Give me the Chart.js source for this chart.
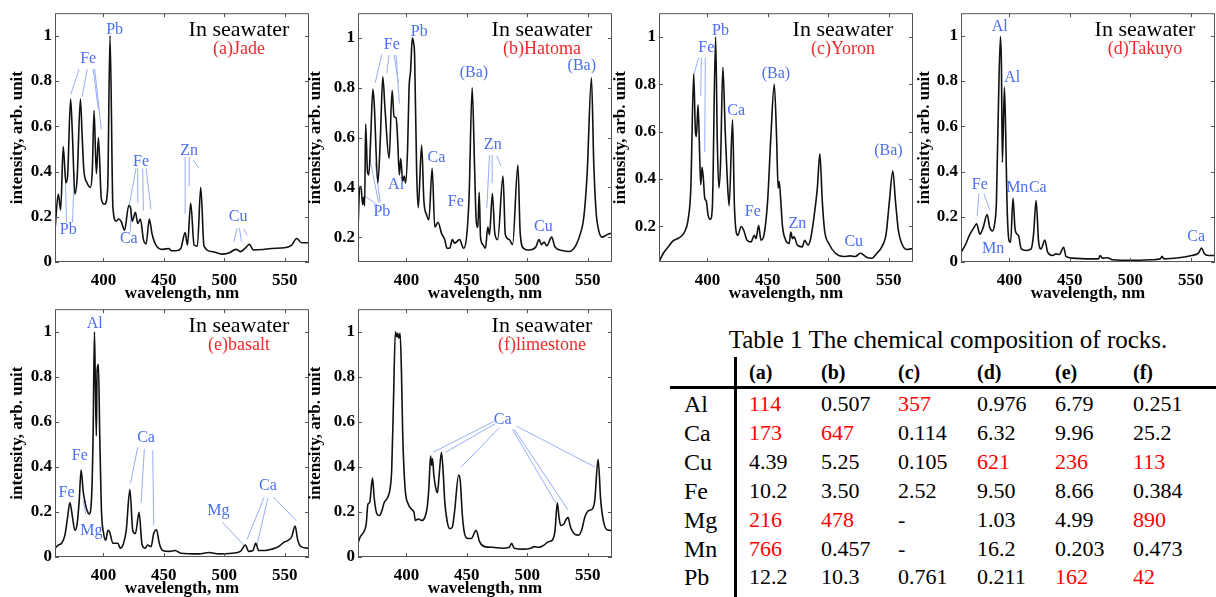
<!DOCTYPE html>
<html>
<head>
<meta charset="utf-8">
<script src="https://cdn.jsdelivr.net/npm/chart.js@4.4.1/dist/chart.umd.min.js"></script>
<style>
  html, body { margin: 0; padding: 0; background: #fff; }
  body { width: 1216px; height: 597px; position: relative; overflow: hidden; font-family: "Liberation Serif", serif; }
  canvas.panel { position: absolute; }
  .t { position: absolute; white-space: nowrap; line-height: 1; }
  .rule { position: absolute; background: #000; }
</style>
</head>
<body>
<script>
// axis ticks
const xTicks = [400, 450, 500, 550];
const yTicksFrom0 = [0, 0.2, 0.4, 0.6, 0.8, 1];
const yTicksFrom02 = [0.2, 0.4, 0.6, 0.8, 1];

// (a) Jade spectrum
const jadeWl = [360, 362.7, 364.7, 366.8, 369, 370.4, 372.9, 374.5, 376.4, 378.3,
  381, 382.5, 383.8, 386.5, 389.3, 390.8, 392.3, 394.2, 395.9, 398.3,
  401, 403.5, 405.5, 407.9, 410.6, 412.5, 414.7, 417.5, 421, 422.5,
  423.8, 426.5, 428.4, 430.6, 433.1, 435.3, 438, 440.2, 443.5, 449,
  454.4, 456, 460, 464, 467.6, 469.5, 472.2, 475, 477.7, 480.5,
  483.2, 490, 498, 503.7, 509.7, 513.3, 517, 520.7, 524, 532,
  539, 550, 555.7, 559.8, 564, 570];
const jadeI = [0.14, 0.30, 0.23, 0.51, 0.35, 0.38, 0.72, 0.55, 0.30, 0.37,
  0.72, 0.55, 0.41, 0.35, 0.33, 0.40, 0.67, 0.39, 0.55, 0.28,
  0.255, 0.32, 1.0, 0.24, 0.18, 0.19, 0.18, 0.14, 0.25, 0.24,
  0.18, 0.22, 0.17, 0.19, 0.10, 0.08, 0.19, 0.125, 0.075, 0.056,
  0.06, 0.05, 0.05, 0.06, 0.13, 0.075, 0.26, 0.075, 0.07, 0.33,
  0.07, 0.046, 0.035, 0.04, 0.056, 0.046, 0.06, 0.078, 0.053, 0.055,
  0.06, 0.063, 0.075, 0.104, 0.085, 0.085];

// (b) Hatoma
const hatomaWl = [360, 361.4, 362.5, 363.8, 364.7, 365.5, 366.3, 367.9, 369, 370.5,
  372.3, 373.4, 376.4, 378.5, 380.5, 382.4, 385.7, 388.2, 389.8, 391.5,
  392.6, 394.2, 395.3, 397, 398.3, 399.4, 401, 402.2, 403.5, 404.9,
  406, 406.8, 408.5, 409.8, 412.6, 414.5, 416.7, 418.6, 421.3, 423.5,
  426.2, 429, 431.7, 433.6, 435.8, 438, 439.9, 444, 447.3, 451.7,
  454.4, 456.4, 457.7, 459.1, 460.2, 461.3, 463.2, 465.4, 467.3, 468.7,
  471.1, 473.1, 475.5, 479.9, 481.8, 485.1, 487.8, 492.2, 494.1, 496.9,
  501.5, 507, 509.7, 511.7, 513.8, 516, 520.1, 522.9, 528.9, 534.4,
  539.9, 544, 546.7, 549.4, 553, 554.9, 556.8, 559, 561.8, 565.9, 570];
const hatomaI = [0.227, 0.40, 0.403, 0.33, 0.36, 0.326, 0.654, 0.46, 0.45, 0.6,
  0.795, 0.737, 0.418, 0.6, 0.844, 0.71, 0.516, 0.79, 0.684, 0.68,
  0.61, 0.45, 0.516, 0.425, 0.445, 0.418, 0.555, 0.797, 0.87, 1.0,
  0.98, 0.93, 0.46, 0.318, 0.57, 0.344, 0.29, 0.27, 0.477, 0.24,
  0.26, 0.216, 0.19, 0.155, 0.155, 0.19, 0.176, 0.19, 0.155, 0.344,
  0.8, 0.477, 0.27, 0.24, 0.38, 0.2, 0.17, 0.155, 0.24, 0.21,
  0.375, 0.216, 0.19, 0.445, 0.21, 0.19, 0.17, 0.49, 0.216, 0.155,
  0.148, 0.16, 0.19, 0.17, 0.18, 0.165, 0.2, 0.16, 0.146, 0.142,
  0.165, 0.216, 0.28, 0.45, 0.84, 0.5, 0.305, 0.227, 0.2, 0.21, 0.216];

// (c) Yoron
const yoronWl = [360, 363.6, 367.7, 371.8, 375.9, 378.6, 381.4, 384.1, 386.3, 388.7,
  390.1, 390.9, 392.3, 393.7, 394.5, 395.6, 396.7, 397.8, 399.1, 400.5,
  402.4, 404.1, 406.8, 408.2, 409.5, 410.9, 412.8, 414.7, 416.4, 418,
  420.8, 422.4, 425.2, 427.9, 430.1, 432.8, 436.1, 438.8, 440.2, 442.4,
  444.3, 447, 449.8, 452.5, 455.3, 457.2, 458.5, 459.4, 460.7, 462.1,
  464.8, 467.6, 469, 470.3, 471.7, 474.4, 478.5, 480.4, 483.2, 485.4,
  488.1, 490.9, 493, 495, 496.9, 500.4, 505.9, 512.8, 518.2, 522.3,
  526.4, 531.9, 536, 540.1, 544.2, 547.8, 550.5, 553.3, 555.5, 557.9,
  560.7, 564.8, 570];
const yoronI = [0.05, 0.087, 0.114, 0.14, 0.15, 0.16, 0.18, 0.23, 0.36, 0.844,
  0.6, 0.58, 0.713, 0.486, 0.376, 0.45, 0.4, 0.32, 0.307, 0.25,
  0.23, 0.28, 1.0, 0.555, 0.362, 0.47, 0.872, 0.61, 0.404, 0.287,
  0.65, 0.28, 0.163, 0.2, 0.183, 0.142, 0.135, 0.163, 0.149, 0.204,
  0.142, 0.17, 0.307, 0.58, 0.8, 0.58, 0.362, 0.39, 0.307, 0.2,
  0.142, 0.128, 0.176, 0.149, 0.156, 0.121, 0.114, 0.142, 0.121, 0.149,
  0.238, 0.362, 0.507, 0.307, 0.183, 0.128, 0.087, 0.073, 0.076, 0.073,
  0.087, 0.069, 0.066, 0.087, 0.114, 0.17, 0.307, 0.434, 0.307, 0.183,
  0.128, 0.103, 0.107];

// (d) Takuyo
const takuyoWl = [360, 363.3, 367.4, 370.7, 372.9, 375.6, 378.3, 381.6, 383.8, 386,
  387.9, 389.3, 390.7, 392.6, 393.4, 394.2, 395.9, 397, 398, 399.7,
  401, 403, 404.6, 406.3, 407.6, 409.8, 413.9, 418, 420, 422.1,
  424.1, 426.2, 429.3, 431.7, 435.8, 438.6, 441.3, 444.9, 446.8, 452.3,
  463.2, 473.6, 475.2, 476.9, 481, 485.1, 501.5, 517.9, 524.8, 526.2,
  527.8, 539.9, 550.8, 556.3, 559, 561.2, 564.5, 570];
const takuyoI = [0.043, 0.072, 0.123, 0.152, 0.169, 0.123, 0.152, 0.21, 0.152, 0.137,
  0.173, 0.267, 0.629, 0.997, 0.874, 0.44, 0.773, 0.556, 0.267, 0.094,
  0.087, 0.282, 0.152, 0.123, 0.116, 0.058, 0.051, 0.058, 0.123, 0.272,
  0.094, 0.058, 0.097, 0.043, 0.029, 0.036, 0.033, 0.065, 0.025, 0.017,
  0.014, 0.014, 0.029, 0.017, 0.019, 0.01, 0.007, 0.01, 0.014, 0.025,
  0.014, 0.019, 0.029, 0.039, 0.062, 0.036, 0.029, 0.029];

// (e) basalt
const basaltWl = [360, 362.7, 365.5, 368.2, 370.4, 372.3, 374.5, 376.4, 378.3, 380,
  381.6, 383.3, 384.6, 386.6, 388.2, 390.1, 391.5, 392.6, 393.4, 394.2,
  394.8, 395.9, 397, 398.3, 400.2, 401.9, 403.8, 405.2, 407.9, 412,
  413.9, 416.7, 418.9, 421.9, 424.3, 426.5, 429.5, 432, 434.5, 436.6,
  439.4, 441.6, 444, 446.2, 449, 454.4, 459.4, 464, 479.1, 487.3,
  495.5, 506.5, 513.3, 517.4, 520.1, 523.7, 525.9, 528.4, 533.8, 539.3,
  544.8, 548.9, 553, 555.7, 558.5, 560.7, 563.4, 570];
const basaltI = [0.039, 0.053, 0.061, 0.097, 0.176, 0.241, 0.176, 0.118, 0.147, 0.249,
  0.386, 0.292, 0.249, 0.205, 0.191, 0.249, 0.538, 1.0, 0.754, 0.538,
  0.827, 0.855, 0.538, 0.22, 0.104, 0.075, 0.118, 0.111, 0.061, 0.061,
  0.039, 0.061, 0.118, 0.299, 0.118, 0.104, 0.198, 0.053, 0.039, 0.053,
  0.046, 0.104, 0.121, 0.061, 0.029, 0.025, 0.029, 0.017, 0.014, 0.02,
  0.014, 0.017, 0.025, 0.053, 0.025, 0.029, 0.061, 0.029, 0.029, 0.035,
  0.046, 0.064, 0.075, 0.09, 0.137, 0.075, 0.046, 0.039];

// (f) limestone
const limeWl = [360, 361.9, 364.7, 366.8, 368.2, 369.6, 372, 373.4, 375.6, 377.8,
  379.7, 381.6, 384.4, 386.6, 387.9, 389.3, 390.9, 392, 392.8, 393.7,
  394.8, 395.9, 397, 398.9, 401.6, 404.3, 406.3, 407.4, 409.8, 412.6,
  415.3, 417.2, 418.6, 420, 420.8, 421.6, 422.7, 424.3, 425.7, 427.1,
  429, 430.4, 431.7, 433.6, 435.8, 438, 439.9, 443.2, 444.6, 446.2,
  448.1, 450.9, 453.6, 457.7, 460.5, 464.6, 471.4, 479.6, 485.1, 487,
  489.2, 496, 502.9, 505.6, 509.7, 513.8, 517.4, 520.7, 522.9, 524.8,
  526.2, 527.5, 530.3, 531.6, 533.6, 535.7, 538.5, 542, 544.8, 547.5,
  550.3, 553.5, 555.7, 558.5, 560.7, 563.1, 565.9, 570];
const limeI = [0.061, 0.09, 0.111, 0.147, 0.234, 0.241, 0.35, 0.263, 0.191, 0.184,
  0.205, 0.241, 0.263, 0.306, 0.393, 0.682, 1.0, 0.978, 0.993, 0.971,
  0.993, 0.827, 0.538, 0.306, 0.234, 0.212, 0.198, 0.162, 0.169, 0.162,
  0.176, 0.22, 0.306, 0.448, 0.408, 0.436, 0.364, 0.306, 0.285, 0.364,
  0.465, 0.379, 0.249, 0.162, 0.126, 0.133, 0.205, 0.364, 0.335, 0.191,
  0.104, 0.082, 0.082, 0.118, 0.068, 0.046, 0.043, 0.039, 0.043, 0.061,
  0.039, 0.035, 0.039, 0.046, 0.043, 0.053, 0.068, 0.075, 0.118, 0.241,
  0.176, 0.14, 0.147, 0.162, 0.176, 0.133, 0.104, 0.097, 0.118, 0.176,
  0.205, 0.212, 0.249, 0.434, 0.249, 0.155, 0.121, 0.118];

// element labels [text, nm, intensity] and pointer lines [nm1, i1, nm2, i2]
const jadeNotes = [['Pb', 409.3, 1.026], ['Fe', 387.4, 0.90], ['Pb', 371, 0.143], ['Fe', 431.2, 0.445],
  ['Ca', 421, 0.104], ['Zn', 470.9, 0.493], ['Cu', 511.4, 0.2]];
const jadeLines = [[380, 0.853, 373.1, 0.742], [386.6, 0.853, 382.4, 0.73], [391.5, 0.853, 395.9, 0.673],
  [392.8, 0.853, 398.3, 0.586], [369.5, 0.175, 368.5, 0.40], [374.5, 0.175, 376, 0.40],
  [427, 0.414, 421, 0.24], [428.4, 0.414, 428.4, 0.262], [432.5, 0.414, 433.1, 0.226], [435.3, 0.414, 439.4, 0.233],
  [422.3, 0.135, 423, 0.22], [467.6, 0.464, 467.6, 0.212], [470.9, 0.464, 470.9, 0.334], [474.4, 0.45, 479.1, 0.414],
  [510.6, 0.15, 507.8, 0.09], [512.5, 0.15, 514.1, 0.09], [516, 0.147, 518.8, 0.118]];

const hatomaNotes = [['Pb', 410.6, 1.027], ['Fe', 387.9, 0.975], ['Pb', 379.7, 0.30], ['Al', 391.5, 0.41],
  ['Ca', 424.9, 0.52], ['Fe', 440.8, 0.34], ['(Ba)', 455.8, 0.86], ['Zn', 471.4, 0.57], ['Cu', 513.3, 0.24],
  ['(Ba)', 545, 0.89]];
const hatomaLines = [[379.7, 0.935, 374.2, 0.82], [385.7, 0.933, 383.8, 0.86], [389.8, 0.933, 393.4, 0.82],
  [391.5, 0.933, 394.2, 0.737], [375.6, 0.33, 364.7, 0.37], [377, 0.34, 370.1, 0.51], [378.3, 0.34, 374.2, 0.5],
  [468.7, 0.53, 466.5, 0.318], [470.9, 0.53, 470.9, 0.416], [474.7, 0.527, 478.3, 0.486]];

const yoronNotes = [['Pb', 410.9, 1.026], ['Fe', 399.1, 0.955], ['Ca', 423.8, 0.69], ['Fe', 437.5, 0.26],
  ['(Ba)', 456.6, 0.844], ['Zn', 474.4, 0.213], ['Cu', 521, 0.134], ['(Ba)', 549.7, 0.52]];
const yoronLines = [[392.8, 0.913, 389, 0.844], [395, 0.913, 394.5, 0.75], [398.3, 0.913, 397.8, 0.514]];

const takuyoNotes = [['Al', 392, 1.04], ['Al', 402.4, 0.814], ['Fe', 375.6, 0.34], ['Mn', 386.6, 0.058],
  ['Mn', 406.5, 0.328], ['Ca', 423.5, 0.328], ['Ca', 554.4, 0.111]];
const takuyoLines = [[374.8, 0.303, 373.4, 0.202], [378.9, 0.303, 383.8, 0.23]];

const basaltNotes = [['Al', 392.8, 1.036], ['Fe', 380.5, 0.448], ['Fe', 369.6, 0.285], ['Mg', 390.1, 0.118],
  ['Ca', 435.3, 0.53], ['Mg', 495, 0.205], ['Ca', 536, 0.314]];
const basaltLines = [[385.5, 0.19, 383.3, 0.25], [428.4, 0.487, 422.4, 0.328], [433.9, 0.48, 431.2, 0.241],
  [440.8, 0.473, 441.6, 0.14], [498.2, 0.155, 516, 0.053], [533, 0.266, 518.8, 0.078], [536, 0.263, 527, 0.053],
  [540.7, 0.266, 559.3, 0.162]];

const limeNotes = [['Ca', 479.6, 0.61]];
const limeLines = [[472.8, 0.603, 422.1, 0.465], [473.6, 0.592, 432.5, 0.465], [476.9, 0.574, 445.4, 0.40],
  [487.8, 0.566, 523.4, 0.241], [489.2, 0.566, 533.8, 0.208], [491.1, 0.581, 555.7, 0.40]];

// Table 1
const tableCols = ['(a)', '(b)', '(c)', '(d)', '(e)', '(f)'];
const tableRows = ['Al', 'Ca', 'Cu', 'Fe', 'Mg', 'Mn', 'Pb'];
const tableVals = [
  ['114', '0.507', '357', '0.976', '6.79', '0.251'],
  ['173', '647', '0.114', '6.32', '9.96', '25.2'],
  ['4.39', '5.25', '0.105', '621', '236', '113'],
  ['10.2', '3.50', '2.52', '9.50', '8.66', '0.384'],
  ['216', '478', '-', '1.03', '4.99', '890'],
  ['766', '0.457', '-', '16.2', '0.203', '0.473'],
  ['12.2', '10.3', '0.761', '0.211', '162', '42']];
const tableRed = [
  [1, 0, 1, 0, 0, 0],
  [1, 1, 0, 0, 0, 0],
  [0, 0, 0, 1, 1, 1],
  [0, 0, 0, 0, 0, 0],
  [1, 1, 0, 0, 0, 1],
  [1, 0, 0, 0, 0, 0],
  [0, 0, 0, 0, 1, 1]];

const AXIS_W = 55, AXIS_H = 40, PAD_T = 7, PLOT_W = 254;
const BLUE = '#4a6ef0', LINE_BLUE = '#98aef4', RED = '#f02a2a';

const panels = [
  { name: '(a)Jade', wl: jadeWl, it: jadeI, notes: jadeNotes, lines: jadeLines, left: 55, top: 7, h: 255, yMin: 0, yTicks: yTicksFrom0, gap: 37 },
  { name: '(b)Hatoma', wl: hatomaWl, it: hatomaI, notes: hatomaNotes, lines: hatomaLines, left: 358, top: 7, h: 255, yMin: 0.1, yTicks: yTicksFrom02, gap: 42 },
  { name: '(c)Yoron', wl: yoronWl, it: yoronI, notes: yoronNotes, lines: yoronLines, left: 659, top: 7, h: 255, yMin: 0.05, yTicks: yTicksFrom02, gap: 38 },
  { name: '(d)Takuyo', wl: takuyoWl, it: takuyoI, notes: takuyoNotes, lines: takuyoLines, left: 961, top: 7, h: 255, yMin: 0, yTicks: yTicksFrom0, gap: 36 },
  { name: '(e)basalt', wl: basaltWl, it: basaltI, notes: basaltNotes, lines: basaltLines, left: 55, top: 303, h: 254, yMin: 0, yTicks: yTicksFrom0, gap: 37 },
  { name: '(f)limestone', wl: limeWl, it: limeI, notes: limeNotes, lines: limeLines, left: 358, top: 303, h: 254, yMin: 0, yTicks: yTicksFrom0, gap: 42 }
];

// draws pointer lines, element labels, the box frame with inward ticks and the titles
function deco(p) {
  return {
    id: 'deco',
    beforeDatasetsDraw(chart) {
      const { ctx, scales: { x, y } } = chart;
      ctx.save();
      ctx.strokeStyle = LINE_BLUE;
      ctx.lineWidth = 1;
      ctx.beginPath();
      p.lines.forEach(l => {
        ctx.moveTo(x.getPixelForValue(l[0]), y.getPixelForValue(l[1]));
        ctx.lineTo(x.getPixelForValue(l[2]), y.getPixelForValue(l[3]));
      });
      ctx.stroke();
      ctx.fillStyle = BLUE;
      ctx.font = '16px "Liberation Serif"';
      ctx.textAlign = 'center';
      ctx.textBaseline = 'middle';
      p.notes.forEach(n => ctx.fillText(n[0], x.getPixelForValue(n[1]), y.getPixelForValue(n[2])));
      ctx.restore();
    },
    afterDatasetsDraw(chart) {
      const { ctx, chartArea: a, scales: { x, y } } = chart;
      ctx.save();
      ctx.strokeStyle = '#555';
      ctx.lineWidth = 1;
      ctx.strokeRect(a.left + 0.5, a.top + 0.5, a.right - a.left - 1, a.bottom - a.top - 1);
      ctx.beginPath();
      xTicks.forEach(v => {
        const px = Math.round(x.getPixelForValue(v)) + 0.5;
        ctx.moveTo(px, a.bottom); ctx.lineTo(px, a.bottom - 4);
        ctx.moveTo(px, a.top); ctx.lineTo(px, a.top + 4);
      });
      p.yTicks.forEach(v => {
        const py = Math.round(y.getPixelForValue(v)) + 0.5;
        ctx.moveTo(a.left, py); ctx.lineTo(a.left + 4, py);
        ctx.moveTo(a.right, py); ctx.lineTo(a.right - 4, py);
      });
      ctx.stroke();
      ctx.textAlign = 'center';
      ctx.textBaseline = 'middle';
      ctx.fillStyle = '#000';
      ctx.font = '22px "Liberation Serif"';
      ctx.fillText('In seawater', a.right - 70, a.top + 17);
      ctx.fillStyle = RED;
      ctx.font = '18px "Liberation Serif"';
      ctx.fillText(p.name, a.right - 70, a.top + 36);
      ctx.restore();
    }
  };
}

const tickFont = { family: 'Liberation Serif', size: 17, weight: 'bold' };
const titleFont = { family: 'Liberation Serif', size: 17, weight: 'bold', lineHeight: 1 };

panels.forEach(p => {
  const cv = document.createElement('canvas');
  cv.className = 'panel';
  cv.width = AXIS_W + PLOT_W + 2;
  cv.height = PAD_T + p.h + AXIS_H;
  cv.style.left = (p.left - AXIS_W) + 'px';
  cv.style.top = (p.top - PAD_T) + 'px';
  document.body.appendChild(cv);

  new Chart(cv.getContext('2d'), {
    type: 'line',
    data: {
      datasets: [{
        data: p.wl.map((w, i) => ({ x: w, y: p.it[i] })),
        borderColor: '#111',
        borderWidth: 1.6,
        pointRadius: 0,
        cubicInterpolationMode: 'monotone',
        fill: false
      }]
    },
    options: {
      responsive: false,
      animation: false,
      devicePixelRatio: 1,
      layout: { padding: { top: PAD_T, right: 2, left: 0, bottom: 0 } },
      plugins: { legend: { display: false }, tooltip: { enabled: false } },
      scales: {
        x: {
          type: 'linear', min: 360, max: 570,
          grid: { display: false, drawTicks: false },
          border: { display: false },
          afterBuildTicks: s => { s.ticks = xTicks.map(v => ({ value: v })); },
          afterFit: s => { s.height = AXIS_H; },
          ticks: { font: tickFont, color: '#000', padding: 8, maxRotation: 0, autoSkip: false },
          title: { display: true, text: 'wavelength, nm', font: titleFont, color: '#000', padding: { top: 0, bottom: 0 } }
        },
        y: {
          type: 'linear', min: p.yMin, max: 1.1,
          grid: { display: false, drawTicks: false },
          border: { display: false },
          afterBuildTicks: s => { s.ticks = p.yTicks.map(v => ({ value: v })); },
          afterFit: s => { s.width = AXIS_W; },
          ticks: { font: tickFont, color: '#000', padding: 3, callback: v => String(v) },
          title: { display: true, text: 'intensity, arb. unit', font: titleFont, color: '#000', padding: { top: AXIS_W - p.gap - 8.5, bottom: 0 } }
        }
      }
    },
    plugins: [deco(p)]
  });
});

// table
function addText(txt, left, top, css) {
  const d = document.createElement('div');
  d.className = 't';
  d.textContent = txt;
  d.style.left = left + 'px';
  d.style.top = top + 'px';
  Object.assign(d.style, css || {});
  document.body.appendChild(d);
  return d;
}
function addRule(left, top, w, h) {
  const d = document.createElement('div');
  d.className = 'rule';
  Object.assign(d.style, { left: left + 'px', top: top + 'px', width: w + 'px', height: h + 'px' });
  document.body.appendChild(d);
}

addText('Table 1 The chemical composition of rocks.', 680, 339 - 12.5, { width: '536px', textAlign: 'center', fontSize: '25px' });
addRule(670, 386, 546, 3);
addRule(734, 357, 2.5, 240);

const colX = [749, 821, 898, 977, 1055, 1133];
tableCols.forEach((c, j) => addText(c, colX[j], 372 - 10, { fontSize: '20px', fontWeight: 'bold' }));
tableRows.forEach((r, i) => {
  const yc = 404 + i * 28.9;
  addText(r, 684, yc - 12, { fontSize: '24px' });
  tableVals[i].forEach((v, j) => addText(v, colX[j], yc - 11, { fontSize: '22px', color: tableRed[i][j] ? '#ff0000' : '#000' }));
});
</script>
</body>
</html>
